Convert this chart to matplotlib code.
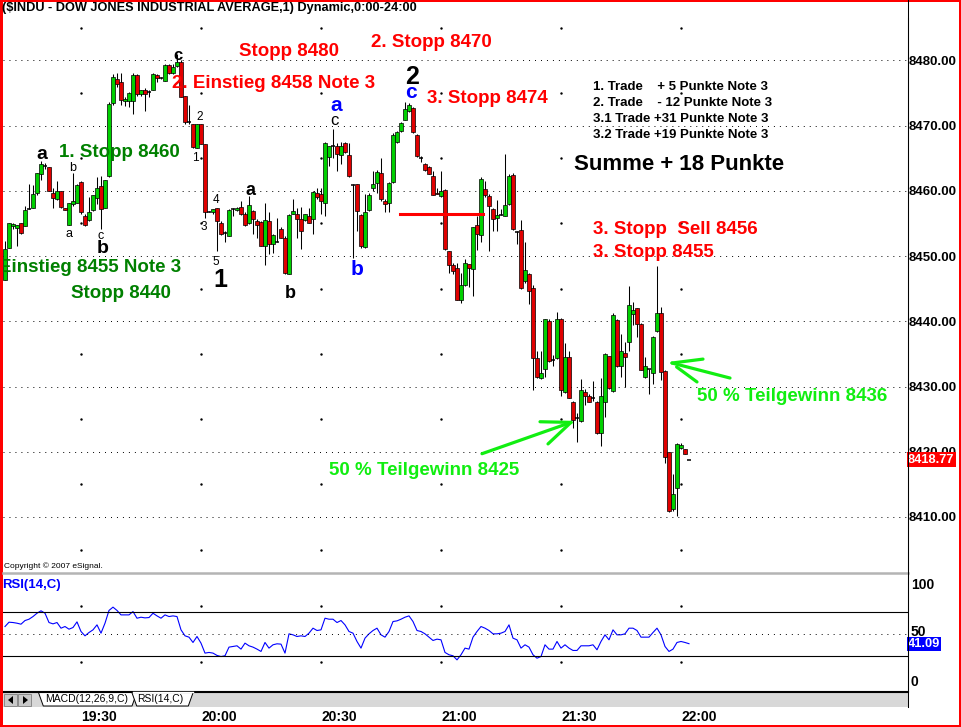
import numpy as np
import matplotlib
matplotlib.use("Agg")
import matplotlib.pyplot as plt
from matplotlib.patches import Polygon, Rectangle
from matplotlib.transforms import blended_transform_factory

plt.rcParams['font.family'] = ['Liberation Sans', 'DejaVu Sans']
plt.rcParams['lines.scale_dashes'] = False

# 1-Minuten-Kerzen $INDU, erste Kerze 19:11 (Minuten ab 19:00)
start_min = 11
opens = [8446.4, 8451.2, 8454.6, 8454.3, 8455.0, 8454.6, 8457.2, 8457.4, 8459.7, 8462.6,
         8463.8, 8463.6, 8459.7, 8458.7, 8460.0, 8457.4, 8454.7, 8458.0, 8458.2, 8461.3,
         8456.1, 8455.5, 8457.0, 8458.9, 8460.8, 8457.3, 8462.2, 8473.4, 8477.2, 8476.7,
         8473.7, 8473.8, 8473.7, 8477.8, 8474.9, 8475.5, 8475.1, 8475.5, 8477.8, 8477.3,
         8476.9, 8479.2, 8478.1, 8479.1, 8479.7, 8474.6, 8470.5, 8470.2, 8466.6, 8470.2,
         8467.1, 8456.8, 8456.7, 8457.4, 8455.1, 8453.5, 8453.1, 8457.2, 8457.0, 8457.5,
         8456.5, 8455.0, 8456.9, 8455.4, 8455.2, 8451.6, 8455.4, 8451.8, 8452.2, 8454.1,
         8452.8, 8447.3, 8456.5, 8456.5, 8455.7, 8455.5, 8456.2, 8455.7, 8459.6, 8459.5,
         8458.2, 8465.2, 8466.8, 8466.9, 8465.5, 8467.3, 8465.5, 8460.9, 8461.0, 8456.3,
         8451.4, 8457.0, 8460.5, 8461.2, 8462.7, 8458.5, 8458.2, 8461.4, 8467.4, 8469.1,
         8470.9, 8472.2, 8472.7, 8468.6, 8465.0, 8464.1, 8463.7, 8462.3, 8459.7, 8459.2,
         8460.1, 8450.7, 8448.6, 8448.2, 8443.2, 8445.5, 8448.7, 8448.0, 8454.7, 8453.2,
         8460.3, 8459.2, 8457.2, 8455.8, 8456.3, 8456.1, 8457.9, 8462.4, 8453.7, 8454.0,
         8446.1, 8447.3, 8445.1, 8434.3, 8431.3, 8432.7, 8440.1, 8434.1, 8434.3, 8440.4,
         8429.1, 8434.5, 8427.7, 8425.1, 8424.7, 8429.2, 8428.6, 8428.2, 8427.7, 8422.8,
         8427.6, 8434.6, 8429.3, 8440.2, 8433.1, 8435.2, 8436.8, 8441.1, 8442.0, 8439.6,
         8431.4, 8432.7, 8432.0, 8438.5, 8441.3, 8432.4, 8419.9, 8411.2, 8414.4, 8420.6,
         8420.4, 8418.77]
highs = [8452.3, 8455.1, 8455.1, 8454.8, 8455.1, 8457.7, 8461.0, 8460.9, 8462.8, 8464.5,
         8464.3, 8463.7, 8460.5, 8461.5, 8460.0, 8457.4, 8458.2, 8462.8, 8461.0, 8461.5,
         8456.4, 8459.0, 8459.3, 8462.1, 8462.2, 8461.7, 8473.6, 8477.9, 8478.1, 8478.1,
         8474.3, 8475.1, 8478.1, 8477.9, 8475.4, 8475.7, 8475.5, 8478.1, 8477.9, 8477.4,
         8479.5, 8479.5, 8479.5, 8481.0, 8480.1, 8474.6, 8473.1, 8470.3, 8470.3, 8470.3,
         8467.2, 8456.9, 8457.2, 8457.4, 8455.4, 8453.8, 8457.2, 8457.4, 8457.5, 8458.4,
         8456.7, 8459.2, 8457.0, 8455.6, 8455.4, 8458.2, 8456.7, 8453.3, 8455.9, 8454.4,
         8453.1, 8456.4, 8458.7, 8457.4, 8457.5, 8456.5, 8457.4, 8460.0, 8460.5, 8460.5,
         8467.4, 8466.9, 8469.5, 8467.3, 8467.5, 8467.4, 8467.3, 8461.0, 8461.0, 8456.4,
         8459.5, 8459.7, 8463.1, 8463.2, 8465.0, 8458.7, 8461.3, 8468.8, 8469.1, 8470.6,
         8473.6, 8473.4, 8472.8, 8468.7, 8465.4, 8464.2, 8463.8, 8463.1, 8460.5, 8463.1,
         8460.2, 8450.8, 8449.0, 8449.0, 8447.4, 8449.6, 8448.8, 8454.5, 8456.2, 8462.1,
         8461.5, 8459.5, 8457.3, 8458.6, 8457.2, 8465.6, 8462.6, 8462.8, 8453.8, 8455.5,
         8452.1, 8447.4, 8445.6, 8435.4, 8435.4, 8440.4, 8440.3, 8434.9, 8441.4, 8440.5,
         8436.7, 8435.4, 8427.8, 8425.9, 8431.2, 8429.6, 8428.9, 8430.9, 8427.8, 8431.3,
         8435.1, 8434.7, 8441.2, 8440.3, 8438.0, 8436.8, 8445.4, 8443.0, 8442.1, 8439.7,
         8434.5, 8432.7, 8437.8, 8448.4, 8442.2, 8432.5, 8420.0, 8416.6, 8421.4, 8421.4,
         8420.4, 8418.77]
lows = [8446.3, 8451.2, 8454.1, 8451.6, 8453.3, 8454.6, 8457.2, 8457.4, 8459.4, 8461.6,
        8463.3, 8459.9, 8457.4, 8458.6, 8457.4, 8457.0, 8454.7, 8457.7, 8458.2, 8456.4,
        8454.6, 8455.4, 8456.9, 8458.0, 8454.1, 8457.3, 8462.1, 8473.1, 8475.9, 8473.1,
        8473.0, 8472.8, 8471.7, 8474.6, 8474.6, 8472.3, 8474.3, 8475.4, 8476.7, 8477.2,
        8476.8, 8477.9, 8477.9, 8479.0, 8474.3, 8470.3, 8470.3, 8466.6, 8466.6, 8467.2,
        8455.9, 8456.7, 8456.4, 8450.7, 8453.2, 8452.1, 8453.0, 8456.1, 8456.9, 8456.3,
        8454.6, 8454.9, 8453.4, 8452.8, 8451.5, 8448.6, 8450.3, 8450.5, 8452.1, 8452.7,
        8447.3, 8447.2, 8456.4, 8452.8, 8451.1, 8455.4, 8455.0, 8453.4, 8458.7, 8456.4,
        8456.2, 8463.8, 8465.0, 8463.1, 8464.1, 8465.8, 8462.1, 8449.7, 8453.8, 8451.3,
        8451.3, 8456.9, 8460.0, 8459.7, 8458.5, 8456.7, 8456.7, 8461.2, 8467.3, 8469.0,
        8470.8, 8472.1, 8468.9, 8465.2, 8464.4, 8463.1, 8462.5, 8459.3, 8459.5, 8459.1,
        8450.9, 8447.4, 8447.2, 8443.2, 8442.8, 8445.4, 8445.2, 8443.8, 8450.9, 8452.2,
        8459.0, 8450.8, 8453.9, 8453.9, 8456.3, 8456.1, 8457.8, 8454.0, 8451.8, 8445.0,
        8445.9, 8442.6, 8429.5, 8431.3, 8431.2, 8431.5, 8433.8, 8433.1, 8434.2, 8428.5,
        8429.0, 8428.2, 8423.6, 8421.5, 8424.5, 8427.1, 8427.7, 8427.8, 8422.7, 8420.9,
        8425.3, 8429.6, 8429.2, 8433.0, 8431.4, 8429.9, 8435.4, 8439.5, 8437.6, 8432.5,
        8431.3, 8428.9, 8430.4, 8438.4, 8431.0, 8418.2, 8410.7, 8410.9, 8410.2, 8420.4,
        8419.7, 8418.77]
closes = [8451.0, 8455.0, 8454.9, 8454.7, 8453.5, 8457.0, 8457.2, 8459.5, 8462.7, 8464.1,
          8463.8, 8459.9, 8458.9, 8460.0, 8457.5, 8457.1, 8458.1, 8458.4, 8460.9, 8456.7,
          8454.8, 8456.8, 8459.3, 8460.4, 8457.2, 8461.6, 8473.3, 8477.5, 8476.3, 8473.9,
          8474.1, 8475.0, 8477.8, 8474.8, 8475.4, 8474.9, 8475.1, 8477.9, 8477.3, 8477.3,
          8479.3, 8478.1, 8479.0, 8479.7, 8474.4, 8470.5, 8470.5, 8466.7, 8470.2, 8467.2,
          8456.8, 8456.8, 8457.2, 8455.4, 8453.4, 8453.5, 8457.1, 8457.2, 8457.4, 8456.4,
          8454.7, 8457.8, 8455.6, 8454.8, 8451.6, 8455.5, 8451.8, 8453.2, 8452.2, 8452.8,
          8447.4, 8456.3, 8456.9, 8455.6, 8453.9, 8456.4, 8455.1, 8459.8, 8459.0, 8458.4,
          8467.3, 8466.8, 8466.8, 8465.7, 8466.9, 8465.9, 8462.2, 8460.9, 8456.9, 8451.5,
          8456.7, 8459.3, 8461.1, 8462.9, 8458.7, 8458.0, 8461.2, 8468.6, 8469.0, 8470.4,
          8472.5, 8473.1, 8469.0, 8465.3, 8465.0, 8463.2, 8462.6, 8459.4, 8459.5, 8460.0,
          8451.0, 8448.6, 8447.7, 8443.3, 8445.5, 8448.9, 8448.1, 8454.4, 8453.4, 8461.8,
          8459.4, 8457.6, 8455.6, 8456.3, 8456.3, 8457.8, 8462.2, 8454.1, 8453.7, 8445.1,
          8447.9, 8444.7, 8434.4, 8431.5, 8432.0, 8440.3, 8433.9, 8434.1, 8440.3, 8429.5,
          8434.5, 8428.3, 8424.9, 8425.1, 8429.5, 8428.5, 8427.7, 8428.2, 8422.8, 8428.5,
          8435.0, 8429.7, 8441.0, 8433.1, 8435.5, 8434.5, 8442.5, 8441.8, 8439.6, 8432.6,
          8433.1, 8432.7, 8437.6, 8441.3, 8432.2, 8419.2, 8410.9, 8413.6, 8421.2, 8421.1,
          8419.7, 8418.77]
rsi = [56.6, 60.5, 60.2, 59.6, 58.7, 62.0, 63.2, 65.6, 68.6, 70.8,
       68.6, 60.2, 59.0, 60.2, 55.1, 56.6, 54.2, 55.7, 60.8, 52.1,
       48.2, 51.2, 53.6, 58.1, 50.6, 59.6, 71.1, 74.1, 71.1, 67.1,
       67.1, 67.1, 70.1, 64.1, 65.0, 64.4, 64.7, 68.6, 66.2, 64.1,
       67.1, 65.6, 66.2, 65.6, 53.6, 48.2, 47.0, 42.2, 47.6, 41.6,
       32.6, 33.2, 32.6, 30.5, 29.5, 30.2, 38.0, 38.6, 39.2, 36.2,
       41.6, 39.2, 38.0, 36.2, 34.1, 42.2, 37.1, 40.1, 41.0, 40.7,
       32.6, 50.0, 49.1, 47.6, 48.2, 47.6, 50.6, 55.1, 53.0, 53.6,
       64.1, 63.2, 63.2, 60.2, 62.0, 58.1, 52.1, 50.6, 43.1, 37.1,
       46.1, 50.0, 53.0, 55.1, 49.1, 47.0, 52.1, 61.1, 61.7, 63.2,
       65.0, 66.2, 61.1, 53.0, 52.1, 50.0, 47.0, 44.0, 45.2, 44.6,
       33.2, 31.1, 30.2, 26.5, 31.1, 37.1, 36.2, 47.0, 52.1,
       56.6, 55.1, 53.0, 50.0, 50.0, 50.6, 52.1, 58.1, 46.1, 44.6,
       37.1, 40.1, 38.0, 31.1, 28.0, 29.5, 40.1, 36.2, 36.2, 43.1,
       37.1, 40.1, 37.1, 35.0, 35.0, 39.2, 39.2, 39.2, 40.1, 35.6,
       43.1, 49.1, 44.6, 53.6, 49.1, 49.1, 50.0, 55.1, 55.1, 53.0,
       47.0, 47.0, 47.0, 51.2, 55.1, 49.1, 38.6, 34.1, 36.2, 42.2,
       43.1, 42.2, 41.09]

price_ticks = [8410, 8420, 8430, 8440, 8450, 8460, 8470, 8480]
time_ticks = [30, 60, 90, 120, 150, 180]
time_labels = ["19:30", "20:00", "20:30", "21:00", "21:30", "22:00"]
last_price = 8418.77
last_rsi = 41.09

W, H = 961, 727
RED = "#FF0000"
DKGREEN = "#008000"
LIME = "#11EE11"
BLUE = "#0000FF"

O = np.array(opens); Hh = np.array(highs); L = np.array(lows); C = np.array(closes)
x = start_min + np.arange(len(O))

fig = plt.figure(figsize=(W / 100, H / 100), dpi=100, facecolor="w")
ax = fig.add_axes([3 / W, 1 - 572 / H, 905 / W, 554 / H])
ax2 = fig.add_axes([3 / W, 1 - 691 / H, 905 / W, 116 / H])

# ---- Kursbereich ----
ax.set_xlim(10.5, 236.75)
ax.set_ylim(8401.57, 8486.48)
for s in ["top", "left", "bottom"]:
    ax.spines[s].set_visible(False)
ax.spines["right"].set_linewidth(0.75)
ax.yaxis.tick_right()
ax.set_yticks(price_ticks)
ax.set_yticklabels(["%.2f" % v for v in price_ticks], fontsize=9.5, fontweight="bold")
ax.tick_params(axis="y", length=0, pad=0.5)
ax.set_xticks([])

for v in price_ticks:
    ax.axhline(v, color="black", lw=0.7, ls=(0, (0.7, 3.6)), zorder=0)
half_levels = np.arange(price_ticks[0] - 5, price_ticks[-1] + 10, 10)
for t in time_ticks:
    ax.plot(np.full(len(half_levels), t), half_levels, ls="none", marker="s",
            ms=0.7, color="black", zorder=0)

up = C > O
dn = C < O
fl = C == O
ax.vlines(x, L, Hh, color="black", lw=0.75, zorder=2)
ax.bar(x[up], (C - O)[up], bottom=O[up], width=0.8, color="#00D000",
       edgecolor="black", lw=0.5, zorder=3)
ax.bar(x[dn], (O - C)[dn], bottom=C[dn], width=0.8, color="#E00000",
       edgecolor="black", lw=0.5, zorder=3)
ax.hlines(O[fl], x[fl] - 0.45, x[fl] + 0.45, color="black", lw=1.1, zorder=3)

# roter Stopp-Strich
ax.plot([109.75, 130.5], [8456.4, 8456.4], color=RED, lw=2.2, zorder=4)

# Pfeile
arrow_kw = dict(color=LIME, lw=2.3, solid_capstyle="round", zorder=5)
ax.plot([130.25, 152.5], [8419.7, 8424.5], **arrow_kw)
ax.plot([144.75, 152.5], [8424.6, 8424.5], **arrow_kw)
ax.plot([146.75, 152.5], [8421.2, 8424.5], **arrow_kw)
ax.plot([177.75, 192.25], [8433.6, 8431.3], **arrow_kw)
ax.plot([177.75, 185.5], [8433.6, 8434.2], **arrow_kw)
ax.plot([178.9, 184.0], [8433.0, 8430.7], **arrow_kw)

big = dict(fontsize=13.5, fontweight="bold", va="center", clip_on=False, zorder=6)
ax.text(82.0, 8481.3, "Stopp 8480", color=RED, ha="center", **big)
ax.text(117.6, 8482.8, "2. Stopp 8470", color=RED, ha="center", **big)
ax.text(78.1, 8476.5, "2. Einstieg 8458 Note 3", color=RED, ha="center", **big)
ax.text(131.5, 8474.1, "3. Stopp 8474", color=RED, ha="center", **big)
ax.text(39.6, 8465.8, "1. Stopp 8460", color=DKGREEN, ha="center", **big)
ax.text(9.6, 8448.2, "Einstieg 8455 Note 3", color=DKGREEN, ha="left", **big)
ax.text(39.9, 8444.3, "Stopp 8440", color=DKGREEN, ha="center", **big)
ax.text(158.0, 8454.0, "3. Stopp  Sell 8456", color=RED, ha="left", **big)
ax.text(158.0, 8450.5, "3. Stopp 8455", color=RED, ha="left", **big)
ax.text(92.0, 8417.05, "50 % Teilgewinn 8425", color=LIME, ha="left", **big)
ax.text(184.0, 8428.4, "50 % Teilgewinn 8436", color=LIME, ha="left", **big)
ax.text(153.25, 8464.1, "Summe + 18 Punkte", color="black", ha="left",
        fontsize=16, fontweight="bold", va="center")

trades = ["1. Trade    + 5 Punkte Note 3", "2. Trade    - 12 Punkte Note 3",
          "3.1 Trade +31 Punkte Note 3", "3.2 Trade +19 Punkte Note 3"]
for tr, yy in zip(trades, [8475.9, 8473.4, 8471.0, 8468.5]):
    ax.text(158.0, yy, tr, fontsize=9.5, fontweight="bold", ha="left", va="center")

# Wellen-Beschriftung
waves = [("a", 20.25, 8465.5, 14, "black", "bold"), ("b", 28.0, 8463.5, 9, "black", "normal"),
         ("a", 27.0, 8453.4, 9, "black", "normal"), ("c", 35.0, 8453.1, 9, "black", "normal"),
         ("b", 35.5, 8451.2, 14, "black", "bold"), ("c", 54.25, 8480.8, 12, "black", "bold"),
         ("2", 59.75, 8471.3, 8.5, "black", "normal"), ("1", 58.5, 8465.0, 8.5, "black", "normal"),
         ("4", 63.75, 8458.6, 8.5, "black", "normal"), ("3", 60.75, 8454.5, 8.5, "black", "normal"),
         ("5", 63.75, 8449.1, 8.5, "black", "normal"), ("1", 64.75, 8446.3, 18, "black", "bold"),
         ("a", 72.25, 8460.1, 13, "black", "bold"), ("b", 82.25, 8444.3, 13, "black", "bold"),
         ("a", 93.75, 8473.0, 15, BLUE, "bold"), ("c", 93.25, 8470.8, 12, "black", "normal"),
         ("b", 99.0, 8447.9, 15, BLUE, "bold"), ("2", 112.75, 8477.4, 18, "black", "bold"),
         ("c", 112.5, 8475.0, 15, BLUE, "bold")]
for s, tx, ty, fs, col, fw in waves:
    ax.text(tx, ty, s, fontsize=fs, color=col, fontweight=fw, ha="center", va="center", zorder=6)

ax.text(1.0, last_price, "%.2f" % last_price,
        transform=blended_transform_factory(ax.transAxes, ax.transData),
        color="white", fontsize=9.3, fontweight="bold", ha="left", va="center", zorder=8,
        bbox=dict(boxstyle="square,pad=0.1", fc=RED, ec="none"))

# ---- RSI ----
ax2.set_xlim(ax.get_xlim())
ax2.set_ylim(-1.6, 103.1)
ax2.plot(x, rsi, color=BLUE, lw=0.8)
ax2.axhline(70, color="black", lw=0.8)
ax2.axhline(30, color="black", lw=0.8)
ax2.axhline(50, color="black", lw=0.7, ls=(0, (0.7, 3.6)))
for t in time_ticks:
    ax2.plot([t, t], [75, 25], ls="none", marker="s", ms=0.7, color="black")
for s in ["top", "left"]:
    ax2.spines[s].set_visible(False)
ax2.spines["right"].set_linewidth(0.75)
ax2.spines["bottom"].set_linewidth(0.8)
ax2.set_yticks([])
ax2.set_xticks(time_ticks)
ax2.set_xticklabels(time_labels, fontsize=10, fontweight="bold", ha="left")
ax2.tick_params(axis="x", length=0, pad=14)
tr2 = blended_transform_factory(ax2.transAxes, ax2.transData)
ax2.text(1.003, 100, "100", transform=tr2, fontsize=10, fontweight="bold", ha="left", va="top")
ax2.text(1.003, 52, "50", transform=tr2, fontsize=10, fontweight="bold", ha="left", va="center")
ax2.text(1.003, 0, "0", transform=tr2, fontsize=10, fontweight="bold", ha="left", va="bottom")
ax2.text(1.0, last_rsi, "%.2f" % last_rsi, transform=tr2, color="white", fontsize=9.3,
         fontweight="bold", ha="left", va="center", zorder=8,
         bbox=dict(boxstyle="square,pad=0.08", fc=BLUE, ec="none"))

# ---- Rahmen, Titel, Reiter ----
ov = fig.add_axes([0, 0, 1, 1], zorder=10)
ov.set_xlim(0, W); ov.set_ylim(H, 0)
ov.axis("off"); ov.patch.set_alpha(0)
ov.text(2, 8.5, "($INDU - DOW JONES INDUSTRIAL AVERAGE,1) Dynamic,0:00-24:00",
        fontsize=9.2, fontweight="bold", ha="left", va="center")
ov.text(4, 566, "Copyright \u00a9 2007 eSignal.", fontsize=6, ha="left", va="center")
ov.plot([3, 908], [573, 573], color="#B4B4B4", lw=1.8)
ov.text(2, 585, "RSI(14,C)", color=BLUE, fontsize=9.5, fontweight="bold", ha="left", va="center")
ov.plot([908, 908], [0, 707], color="black", lw=0.75)
ov.add_patch(Rectangle((3, 691.5), 905, 15.5, fc="#D8D8D8", ec="none"))
for bx, tri in [(4, [(13, 696), (13, 704), (8, 700)]), (18, [(23, 696), (23, 704), (28, 700)])]:
    ov.add_patch(Rectangle((bx, 693.5), 13, 12, fc="#C8C8C8", ec="#808080", lw=0.6))
    ov.add_patch(Polygon(tri, closed=True, fc="black", ec="none"))
ov.add_patch(Polygon([(38.3, 692), (43.3, 706), (132, 706), (137, 692)], closed=True,
                     fc="white", ec="black", lw=0.7))
ov.add_patch(Polygon([(131.7, 692), (136.7, 706), (188.3, 706), (193.3, 692)], closed=True,
                     fc="white", ec="black", lw=0.7))
ov.plot([3, 908], [691.5, 691.5], color="black", lw=0.8)
ov.plot([132.5, 192.5], [691.5, 691.5], color="white", lw=1.0)
ov.text(45, 699.5, "MACD(12,26,9,C)", fontsize=7.5, ha="left", va="center")
ov.text(137, 699.5, "RSI(14,C)", fontsize=7.5, ha="left", va="center")
for r in [(0, 0, 2.5, H), (0, 0, W, 1.8), (958.5, 0, 2.5, H), (0, 725, W, 2)]:
    ov.add_patch(Rectangle(r[:2], r[2], r[3], fc=RED, ec="none"))

fig.savefig("out.png", dpi=100)
